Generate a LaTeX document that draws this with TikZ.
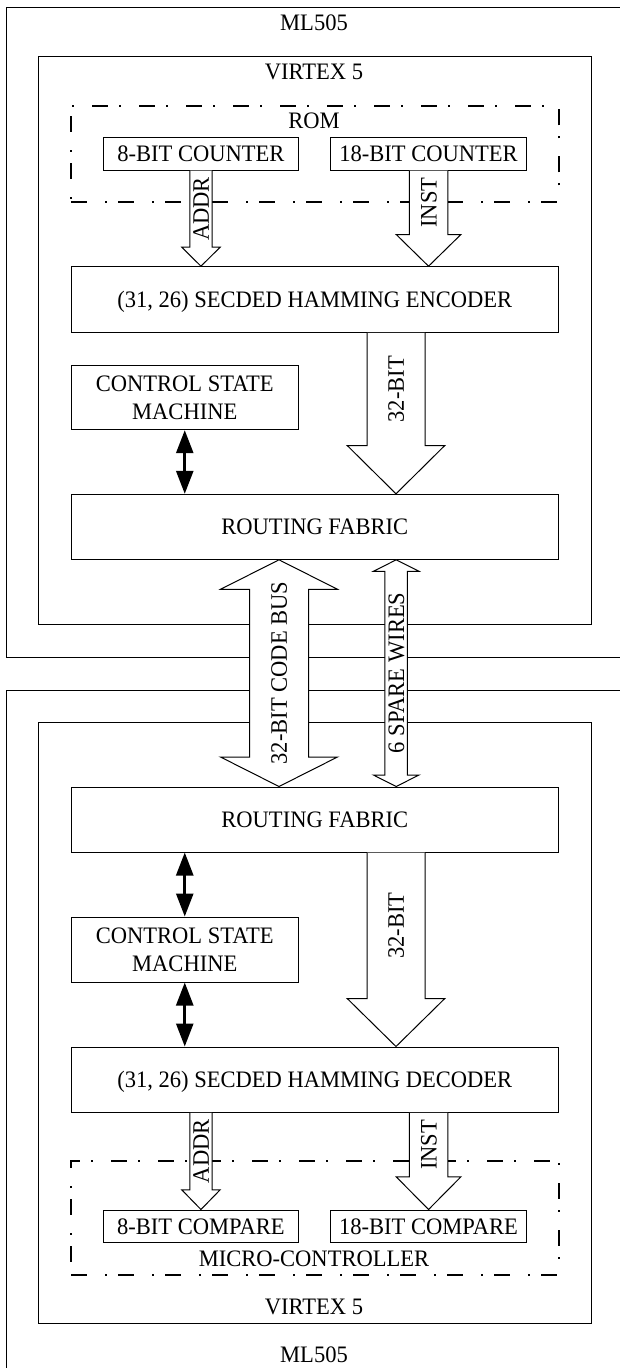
\documentclass[tikz,border=0pt]{standalone}
\usepackage{fontspec}
\setmainfont{Liberation Serif}[FakeStretch=0.955]
\usetikzlibrary{arrows.meta,calc}
\tikzset{
  every node/.style={font=\fontsize{23.6}{27.7}\selectfont, inner sep=0pt, text depth=0pt},
  thinbox/.style={draw, line width=1pt, rectangle, align=center},
  frame/.style={draw, line width=1pt},
  dashdotbox/.style={draw, line width=2pt, dash pattern=on 16pt off 18pt on 2pt off 11pt},
  blockarrow/.style={draw, fill=white, line width=1pt, line join=miter},
  bidir/.style={line width=2.6pt, {Triangle[length=23pt,width=17pt]}-{Triangle[length=23pt,width=17pt]}},
  vlabel/.style={rotate=90}
}
\newcommand{\downblock}[5]{% start, tip, shaft half, head half, head length
  \path[blockarrow] let \p1=(#1), \p2=(#2) in
    (\x1-#3,\y1) -- (\x1-#3,\y2+#5) -- (\x1-#4,\y2+#5) -- (\x2,\y2) --
    (\x1+#4,\y2+#5) -- (\x1+#3,\y2+#5) -- (\x1+#3,\y1);
}
\newcommand{\dblblock}[5]{% top tip, bottom tip, shaft half, head half, head length
  \path[blockarrow] let \p1=(#1), \p2=(#2) in
    (\x1,\y1) -- (\x1+#4,\y1-#5) -- (\x1+#3,\y1-#5) -- (\x1+#3,\y2+#5) --
    (\x1+#4,\y2+#5) -- (\x2,\y2) -- (\x1-#4,\y2+#5) -- (\x1-#3,\y2+#5) --
    (\x1-#3,\y1-#5) -- (\x1-#4,\y1-#5) -- cycle;
}
\begin{document}
\begin{tikzpicture}[x=1pt,y=1pt]
\useasboundingbox (0,0) rectangle (619,-1368);
\fill[white] (0,0) rectangle (619,-1368);

% outer boards (open on the right / bottom)
\draw[frame] (620,-7.5) -- (6,-7.5) -- (6,-657.3) -- (620,-657.3);
\draw[frame] (620,-690) -- (6,-690) -- (6,-1370);
\node (ml1) at (314,-23) {ML505};
\node (ml2) at (314,-1355) {ML505};

% FPGA boxes
\node[thinbox, minimum width=553pt, minimum height=567.3pt] (vx1) at (314.5,-340.35) {};
\node[thinbox, minimum width=553pt, minimum height=601pt] (vx2) at (314.5,-1022.8) {};
\node (vx1t) at (314,-71.7) {VIRTEX 5};
\node (vx2t) at (314,-1306.7) {VIRTEX 5};

% ROM
\node[dashdotbox, minimum width=487.6pt, minimum height=95.7pt] (rom) at (314.8,-153.85) {};
\node (romt) at (314,-120.7) {ROM};
\node[thinbox, minimum width=195.1pt, minimum height=32.7pt] (cnt8) at (200.95,-153.65) {8-BIT COUNTER};
\node[thinbox, minimum width=195.5pt, minimum height=32.7pt] (cnt18) at (428.55,-153.65) {18-BIT COUNTER};

% upper blocks
\node[thinbox, minimum width=487.6pt, minimum height=65.6pt] (enc) at (314.8,-299.5) {(31, 26) SECDED HAMMING ENCODER};
\node[thinbox, minimum width=227.5pt, minimum height=64.7pt] (csm1) at (184.75,-397.35) {CONTROL STATE\\MACHINE};
\node[thinbox, minimum width=487.6pt, minimum height=65pt] (rf1) at (314.8,-526.8) {ROUTING FABRIC};

% lower blocks
\node[thinbox, minimum width=487.6pt, minimum height=65pt] (rf2) at (314.8,-819.5) {ROUTING FABRIC};
\node[thinbox, minimum width=227.5pt, minimum height=65pt] (csm2) at (184.75,-949.5) {CONTROL STATE\\MACHINE};
\node[thinbox, minimum width=487.6pt, minimum height=65.3pt] (dec) at (314.8,-1079.65) {(31, 26) SECDED HAMMING DECODER};

% micro-controller
\node[dashdotbox, minimum width=487.6pt, minimum height=114.3pt] (mc) at (314.8,-1217.85) {};
\node (mct) at (314,-1258.3) {MICRO-CONTROLLER};
\node[thinbox, minimum width=195.1pt, minimum height=32.3pt] (cmp8) at (200.95,-1226.15) {8-BIT COMPARE};
\node[thinbox, minimum width=195.5pt, minimum height=32.3pt] (cmp18) at (428.55,-1226.15) {18-BIT COMPARE};

\coordinate (c32) at (396,0);
\coordinate (cbus) at (279,0);
\coordinate (cspare) at (396.2,0);

% block arrows
\downblock{cnt8.south}{cnt8.south |- enc.north}{11.2pt}{19.2pt}{19pt}
\downblock{cnt18.south}{cnt18.south |- enc.north}{19.3pt}{32.35pt}{31.7pt}
\downblock{enc.south -| c32}{rf1.north -| c32}{29pt}{48.8pt}{48.3pt}
\downblock{rf2.south -| c32}{dec.north -| c32}{29pt}{48.8pt}{48pt}
\downblock{cmp8.north |- dec.south}{cmp8.north}{11.2pt}{19.2pt}{19.7pt}
\downblock{cmp18.north |- dec.south}{cmp18.north}{19.3pt}{32.35pt}{32.7pt}
\dblblock{rf1.south -| cbus}{rf2.north -| cbus}{29.5pt}{58.5pt}{29.5pt}
\dblblock{rf1.south -| cspare}{rf2.north -| cspare}{11.25pt}{22.8pt}{11.5pt}

% arrow labels
\node[vlabel] (laddr1) at (201.2,-209) {ADDR};
\node[vlabel] (linst1) at (428.7,-202.5) {INST};
\node[vlabel] (l32a) at (396,-389.2) {32-BIT};
\node[vlabel] (lbus) at (279,-673) {32-BIT CODE BUS};
\node[vlabel] (lspare) at (396.2,-673) {6 SPARE WIRES};
\node[vlabel] (l32b) at (396,-925.5) {32-BIT};
\node[vlabel] (laddr2) at (201.2,-1151.2) {ADDR};
\node[vlabel] (linst2) at (428.7,-1144.8) {INST};

% control arrows
\draw[bidir] (csm1.south) -- (csm1.south |- rf1.north);
\draw[bidir] (rf2.south -| csm2.north) -- (csm2.north);
\draw[bidir] (csm2.south) -- (csm2.south |- dec.north);
\end{tikzpicture}
\end{document}
